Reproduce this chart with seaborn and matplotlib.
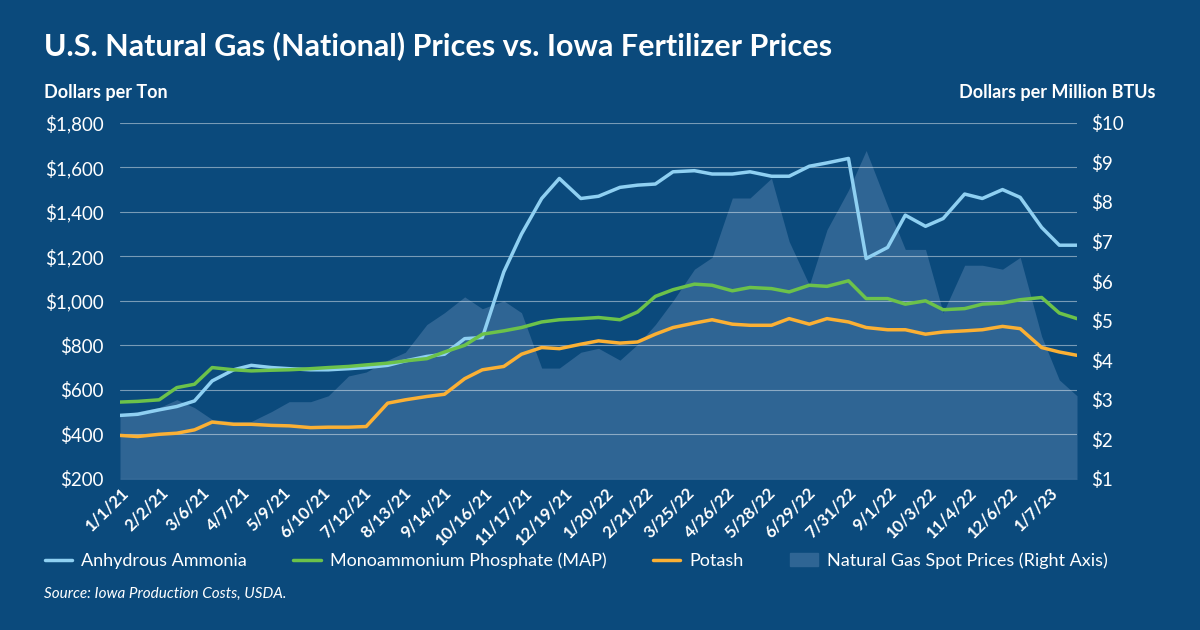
import matplotlib
matplotlib.use("Agg")
import matplotlib.pyplot as plt
import seaborn as sns
import pandas as pd
import numpy as np

dates = list(pd.date_range("2021-01-01", "2022-12-31", freq="SMS")) + [pd.Timestamp("2023-01-01"), pd.Timestamp("2023-01-15"), pd.Timestamp("2023-01-29")]

anhydrous = [485, 490, 510, 525, 550, 640, 690, 710, 700, 695, 690, 690, 695, 700, 710, 730,
             750, 760, 830, 835, 1130, 1300, 1460, 1550, 1460, 1470, 1510, 1520, 1525, 1580,
             1585, 1570, 1570, 1580, 1560, 1560, 1605, 1620, 1640, 1190, 1240, 1385, 1335, 1370,
             1480, 1460, 1500, 1465, 1330, 1250, 1250]
map_ = [545, 548, 555, 610, 625, 700, 690, 685, 688, 690, 695, 700, 705, 712, 720, 730,
        740, 770, 800, 850, 865, 880, 905, 915, 920, 925, 915, 950, 1020, 1050,
        1075, 1070, 1045, 1060, 1055, 1040, 1070, 1065, 1090, 1010, 1010, 985, 1000, 960,
        965, 985, 990, 1005, 1015, 945, 920]
potash = [395, 390, 400, 405, 420, 455, 445, 445, 440, 438, 430, 432, 432, 435, 540, 555,
          570, 580, 650, 690, 705, 760, 790, 785, 805, 820, 810, 815, 850, 880,
          900, 915, 895, 890, 890, 920, 895, 920, 905, 880, 870, 870, 850, 860,
          865, 870, 885, 875, 790, 770, 755]
gas = [2.6, 2.7, 2.8, 3.0, 2.8, 2.5, 2.45, 2.45, 2.7, 2.95, 2.95, 3.1, 3.6, 3.7, 4.0, 4.2,
       4.9, 5.2, 5.6, 5.3, 5.5, 5.2, 3.8, 3.8, 4.2, 4.3, 4.0, 4.4, 4.9, 5.5,
       6.3, 6.6, 8.1, 8.1, 8.6, 7.0, 5.9, 7.3, 8.3, 9.3, 7.9, 6.8, 6.8, 5.2, 6.4,
       6.4, 6.3, 6.6, 4.6, 3.5, 3.1]
tick_labels = ["1/1/21", "2/2/21", "3/6/21", "4/7/21", "5/9/21", "6/10/21", "7/12/21", "8/13/21",
               "9/14/21", "10/16/21", "11/17/21", "12/19/21", "1/20/22", "2/21/22", "3/25/22",
               "4/26/22", "5/28/22", "6/29/22", "7/31/22", "9/1/22", "10/3/22", "11/4/22",
               "12/6/22", "1/7/23"]

df = pd.DataFrame({"date": dates, "Anhydrous Ammonia": anhydrous,
                   "Monoammonium Phosphate (MAP)": map_, "Potash": potash})
long = df.melt("date", var_name="series", value_name="price")

BG = "#0b4a7c"
FILL = "#2f6594"
sns.set_theme(style="white")
plt.rcParams["font.family"] = ["Lato", "DejaVu Sans"]

fig = plt.figure(figsize=(12, 6.3), dpi=100, facecolor=BG)
ax = fig.add_axes([0.1, 0.24, 0.7975, 0.565])
ax2 = ax.twinx()
ax2.fill_between(dates, gas, 0, color=FILL, lw=0)
ax2.set_ylim(1, 10)
ax.set_zorder(ax2.get_zorder() + 1)
ax.patch.set_visible(False)
ax2.set_facecolor(BG)

palette = {"Anhydrous Ammonia": "#8fd0f2", "Monoammonium Phosphate (MAP)": "#6cc24a", "Potash": "#fbb034"}
sns.lineplot(data=long, x="date", y="price", hue="series", palette=palette, lw=2.5, ax=ax, legend=False)
ax.set_ylim(200, 1800)
ax.set_yticks(range(200, 1801, 200))
ax.set_yticklabels([f"${v:,}" for v in range(200, 1801, 200)])
ax2.set_yticks(range(1, 11))
ax2.set_yticklabels([f"${v}" for v in range(1, 11)])
ax.set_xlim(pd.Timestamp("2021-01-01"), pd.Timestamp("2023-01-29"))
tick_dates = [pd.to_datetime(t, format="%m/%d/%y") for t in tick_labels]
ax.set_xticks(tick_dates)
ax.set_xticklabels(tick_labels, rotation=45, ha="right", rotation_mode="anchor")
ax.grid(axis="y", color="white", alpha=0.45, lw=0.8)
ax.set_xlabel(""); ax.set_ylabel("")
for a in (ax, ax2):
    for s in a.spines.values():
        s.set_visible(False)
    a.tick_params(colors="white", labelsize=13.5, length=0)
ax.tick_params(axis="x", labelsize=12, pad=4)
for t in ax.get_xticklabels():
    t.set_fontweight("bold")
ax.tick_params(axis="y", pad=12)
ax2.tick_params(axis="y", pad=10)

fig.text(0.037, 0.928, "U.S. Natural Gas (National) Prices vs. Iowa Fertilizer Prices",
         color="white", fontsize=22, fontweight="bold", va="center")
fig.text(0.037, 0.853, "Dollars per Ton", color="white", fontsize=13, fontweight="bold", va="center")
fig.text(0.963, 0.853, "Dollars per Million BTUs", color="white", fontsize=13, fontweight="bold",
         va="center", ha="right")
fig.text(0.037, 0.058, "Source: Iowa Production Costs, USDA.", color="white", fontsize=11,
         style="italic", va="center")

from matplotlib.lines import Line2D
from matplotlib.patches import Patch
handles = [Line2D([], [], color=palette[k], lw=2.5) for k in palette] + [Patch(color=FILL)]
labels = list(palette) + ["Natural Gas Spot Prices (Right Axis)"]
fig.legend(handles, labels, loc="center", bbox_to_anchor=(0.48, 0.11), ncol=4, frameon=False,
           labelcolor="white", fontsize=13, handlelength=1.5, handletextpad=0.5, columnspacing=2.6)
fig.savefig("out.png", facecolor=BG)
